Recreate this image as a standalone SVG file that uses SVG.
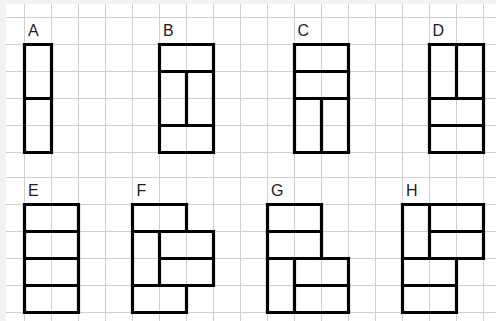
<svg xmlns="http://www.w3.org/2000/svg" width="496" height="321" viewBox="0 0 496 321">
  <style>
    .grid line { stroke: #d0d0d0; stroke-width: 1; }
    .fig { fill: none; stroke: #000; stroke-width: 3.2; stroke-linejoin: miter; stroke-linecap: square; }
    .lbl { font-family: "Liberation Sans", Arial, sans-serif; font-size: 16px; fill: #1c1c2c; }
  </style>
  <rect x="0" y="0" width="496" height="321" fill="#ffffff"/>
  <rect x="0" y="0" width="496" height="4" fill="#f2f2f2"/>
  <rect x="0" y="0" width="6" height="321" fill="#f2f2f2"/>
  <g class="grid">
    <line x1="24.5" y1="4" x2="24.5" y2="321"/>
    <line x1="51.5" y1="4" x2="51.5" y2="321"/>
    <line x1="78.5" y1="4" x2="78.5" y2="321"/>
    <line x1="105.5" y1="4" x2="105.5" y2="321"/>
    <line x1="132.5" y1="4" x2="132.5" y2="321"/>
    <line x1="159.5" y1="4" x2="159.5" y2="321"/>
    <line x1="186.5" y1="4" x2="186.5" y2="321"/>
    <line x1="213.5" y1="4" x2="213.5" y2="321"/>
    <line x1="240.5" y1="4" x2="240.5" y2="321"/>
    <line x1="267.5" y1="4" x2="267.5" y2="321"/>
    <line x1="294.5" y1="4" x2="294.5" y2="321"/>
    <line x1="321.5" y1="4" x2="321.5" y2="321"/>
    <line x1="348.5" y1="4" x2="348.5" y2="321"/>
    <line x1="375.5" y1="4" x2="375.5" y2="321"/>
    <line x1="402.5" y1="4" x2="402.5" y2="321"/>
    <line x1="429.5" y1="4" x2="429.5" y2="321"/>
    <line x1="456.5" y1="4" x2="456.5" y2="321"/>
    <line x1="483.5" y1="4" x2="483.5" y2="321"/>
    <line x1="6" y1="17.5" x2="496" y2="17.5"/>
    <line x1="6" y1="44.5" x2="496" y2="44.5"/>
    <line x1="6" y1="71.5" x2="496" y2="71.5"/>
    <line x1="6" y1="98.5" x2="496" y2="98.5"/>
    <line x1="6" y1="125.5" x2="496" y2="125.5"/>
    <line x1="6" y1="152.5" x2="496" y2="152.5"/>
    <line x1="6" y1="177.5" x2="496" y2="177.5"/>
    <line x1="6" y1="204.5" x2="496" y2="204.5"/>
    <line x1="6" y1="231.5" x2="496" y2="231.5"/>
    <line x1="6" y1="258.5" x2="496" y2="258.5"/>
    <line x1="6" y1="285.5" x2="496" y2="285.5"/>
    <line x1="6" y1="312.5" x2="496" y2="312.5"/>
  </g>
  <g id="connectors"/>
  <g id="figA">
    <text class="lbl" x="28" y="36">A</text>
    <path class="fig" d="M24.5 44.5H51.5V152.5H24.5Z M24.5 98.5H51.5"/>
  </g>
  <g id="figB">
    <text class="lbl" x="163" y="36">B</text>
    <path class="fig" d="M159.5 44.5H213.5V152.5H159.5Z M159.5 71.5H213.5 M159.5 125.5H213.5 M186.5 71.5V125.5"/>
  </g>
  <g id="figC">
    <text class="lbl" x="297.5" y="36">C</text>
    <path class="fig" d="M294.5 44.5H348.5V152.5H294.5Z M294.5 71.5H348.5 M294.5 98.5H348.5 M321.5 98.5V152.5"/>
  </g>
  <g id="figD">
    <text class="lbl" x="432.5" y="36">D</text>
    <path class="fig" d="M429.5 44.5H483.5V152.5H429.5Z M456.5 44.5V98.5 M429.5 98.5H483.5 M429.5 125.5H483.5"/>
  </g>
  <g id="figE">
    <text class="lbl" x="28" y="196">E</text>
    <path class="fig" d="M24.5 204.5H78.5V312.5H24.5Z M24.5 231.5H78.5 M24.5 258.5H78.5 M24.5 285.5H78.5"/>
  </g>
  <g id="figF">
    <text class="lbl" x="136.5" y="196">F</text>
    <path class="fig" d="M132.5 204.5H186.5V231.5H213.5V285.5H186.5V312.5H132.5Z M132.5 231.5H213.5 M159.5 231.5V285.5 M159.5 258.5H213.5 M132.5 285.5H213.5"/>
  </g>
  <g id="figG">
    <text class="lbl" x="271" y="196">G</text>
    <path class="fig" d="M267.5 204.5H321.5V258.5H348.5V312.5H267.5Z M267.5 231.5H321.5 M267.5 258.5H348.5 M294.5 258.5V312.5 M294.5 285.5H348.5"/>
  </g>
  <g id="figH">
    <text class="lbl" x="406" y="196">H</text>
    <path class="fig" d="M402.5 204.5H483.5V258.5H456.5V312.5H402.5Z M429.5 204.5V258.5 M429.5 231.5H483.5 M402.5 258.5H483.5 M402.5 285.5H456.5"/>
  </g>
</svg>
